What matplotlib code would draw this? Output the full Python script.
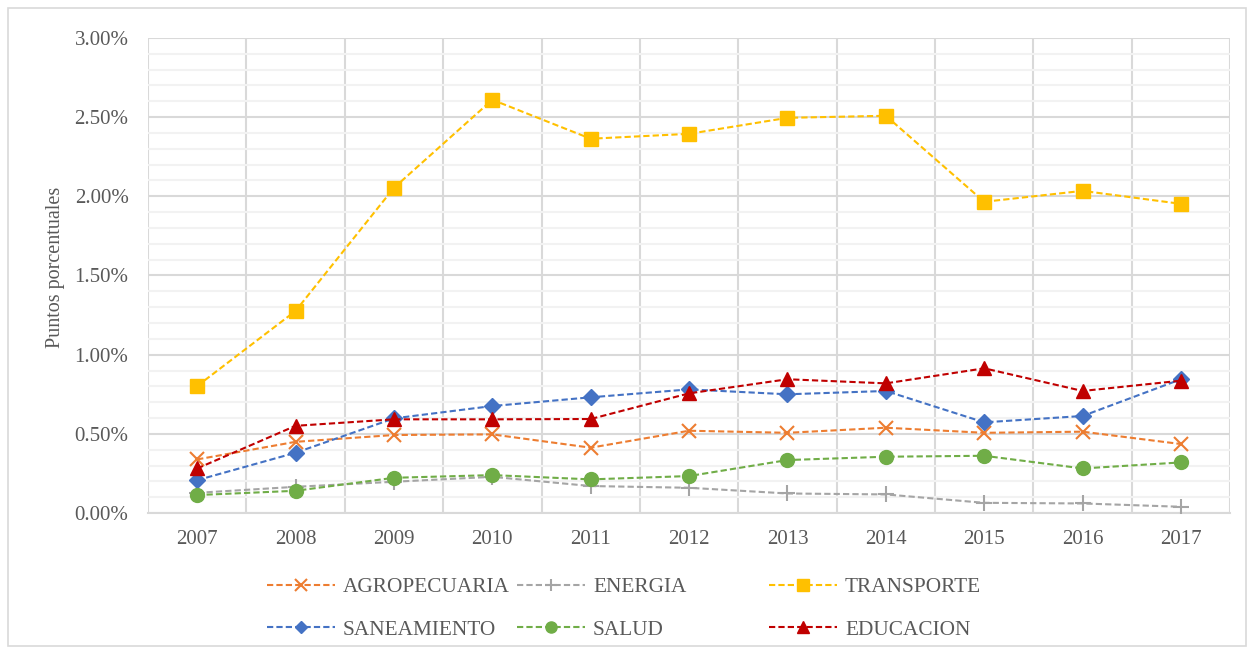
import matplotlib.pyplot as plt
from matplotlib.patches import Rectangle
from matplotlib.ticker import MultipleLocator, FuncFormatter

plt.rcParams['font.family'] = ['Liberation Serif', 'DejaVu Serif']

years = ['2007', '2008', '2009', '2010', '2011', '2012', '2013', '2014', '2015', '2016', '2017']

# valores en %
agropecuaria = [0.339, 0.450, 0.493, 0.497, 0.413, 0.520, 0.507, 0.539, 0.507, 0.514, 0.436]
energia = [0.128, 0.166, 0.198, 0.229, 0.171, 0.160, 0.124, 0.118, 0.065, 0.061, 0.040]
transporte = [0.802, 1.276, 2.053, 2.609, 2.363, 2.394, 2.495, 2.508, 1.965, 2.034, 1.952]
saneamiento = [0.208, 0.381, 0.598, 0.676, 0.731, 0.781, 0.750, 0.771, 0.573, 0.613, 0.845]
salud = [0.114, 0.141, 0.223, 0.240, 0.213, 0.234, 0.335, 0.356, 0.362, 0.282, 0.320]
educacion = [0.282, 0.551, 0.592, 0.592, 0.594, 0.756, 0.845, 0.819, 0.914, 0.771, 0.836]

series = [
    ('AGROPECUARIA', agropecuaria, '#ED7D31', 'x', 10),
    ('ENERGIA', energia, '#A5A5A5', '+', 11),
    ('TRANSPORTE', transporte, '#FFC000', 's', 10),
    ('SANEAMIENTO', saneamiento, '#4472C4', 'D', 8),
    ('SALUD', salud, '#70AD47', 'o', 10),
    ('EDUCACION', educacion, '#C00000', '^', 10),
]

fig = plt.figure(figsize=(12.54, 6.52), dpi=100)
ax = fig.add_axes([0.118, 0.213, 0.863, 0.729])

x = list(range(len(years)))
lines = {}
for name, vals, color, mk, ms in series:
    ln, = ax.plot(x, vals, linestyle=(0, (3, 1.5)), color=color, linewidth=1.5,
                  marker=mk, markersize=ms, markeredgewidth=1.5 if mk in 'x+' else 1,
                  markerfacecolor=color, markeredgecolor=color, label=name, zorder=3)
    lines[name] = ln

ax.set_xlim(-0.5, len(years) - 0.5)
ax.set_ylim(0, 3.0)
ax.set_xticks(x)
ax.set_xticklabels(years)
ax.set_xticks([i - 0.5 for i in range(len(years) + 1)], minor=True)
ax.yaxis.set_major_locator(MultipleLocator(0.5))
ax.yaxis.set_minor_locator(MultipleLocator(0.1))
ax.yaxis.set_major_formatter(FuncFormatter(lambda v, p: '%.2f%%' % v))

ax.grid(which='major', axis='y', color='#D9D9D9', linewidth=1.5, zorder=1)
ax.grid(which='minor', axis='y', color='#F2F2F2', linewidth=1.5, zorder=0)
ax.grid(which='minor', axis='x', color='#D9D9D9', linewidth=1.5, zorder=1)
ax.set_axisbelow(True)

for s in ['top', 'right', 'left']:
    ax.spines[s].set_visible(False)
ax.spines['bottom'].set_color('#D9D9D9')
ax.spines['bottom'].set_linewidth(1.5)

ax.tick_params(which='both', length=0)
ax.tick_params(axis='x', labelsize=15, labelcolor='#595959', pad=12)
ax.tick_params(axis='y', labelsize=15, labelcolor='#595959', pad=14)
ax.set_ylabel('Puntos porcentuales', fontsize=14.5, color='#595959')
ax.yaxis.set_label_coords(-0.077, 0.516)

# leyenda en tres columnas de igual ancho
cols = [['AGROPECUARIA', 'SANEAMIENTO'], ['ENERGIA', 'SALUD'], ['TRANSPORTE', 'EDUCACION']]
xpos = [258, 508, 760]
for names, xp in zip(cols, xpos):
    leg = fig.legend([lines[n] for n in names], names, loc='upper left',
                     bbox_to_anchor=(xp / 1254, 1 - 569 / 652), frameon=False,
                     fontsize=15.3, handlelength=3.2, handletextpad=0.4,
                     labelspacing=1.05, markerscale=0.8, borderaxespad=0)
    for t in leg.get_texts():
        t.set_color('#595959')

fig.patches.append(Rectangle((8 / 1254, 6 / 652), 1238 / 1254, 638 / 652,
                             transform=fig.transFigure, fill=False,
                             edgecolor='#D9D9D9', linewidth=1.2))

fig.savefig('out.png', dpi=100)
